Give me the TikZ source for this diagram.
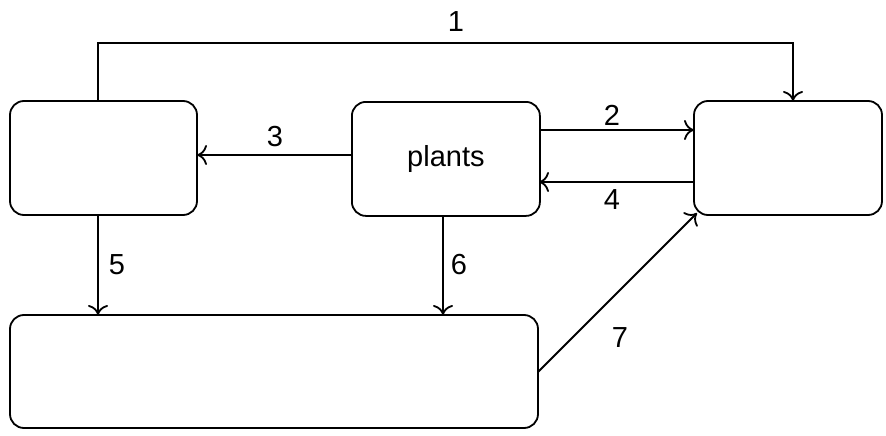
\documentclass[tikz,border=0pt]{standalone}
\usepackage{fontspec}
\setmainfont{Liberation Sans}
\usetikzlibrary{arrows.meta}
\begin{document}
\begin{tikzpicture}[x=1pt,y=-1pt,
  box/.style={draw,line width=1.8pt,rounded corners=14pt},
  arr/.style={line width=1.8pt,-{To[length=10pt,width=20pt,line width=1.8pt]}},
  lbl/.style={font=\fontsize{29}{34}\selectfont}]
\useasboundingbox (0,0) rectangle (886,436);
\draw[box] (10,101) rectangle (197,215);
\node[box,minimum width=188pt,minimum height=114pt,anchor=north west,font=\fontsize{29}{34}\selectfont] (p) at (351,101) {plants};
\draw[box] (694,101) rectangle (882,215);
\draw[box] (10,315) rectangle (538,428);
\coordinate (lt) at (98,101);
\coordinate (rt) at (793,101);
\draw[arr] (lt) -- (98,43) -- (793,43) -- (rt);
\node[lbl] (l1) at (456,22) {1};
\draw[arr] (539,130) -- (694,130);
\node[lbl] (l2) at (612,115) {2};
\draw[arr] (694,182) -- (539,182);
\node[lbl] (l4) at (612,200) {4};
\draw[arr] (351,155) -- (197,155);
\node[lbl] (l3) at (275,137) {3};
\draw[arr] (98,215) -- (98,315);
\node[lbl] (l5) at (117,265) {5};
\draw[arr] (443,215) -- (443,315);
\node[lbl] (l6) at (459,265) {6};
\draw[arr] (538,372) -- (697,213);
\node[lbl] (l7) at (620,338) {7};
\end{tikzpicture}
\end{document}
